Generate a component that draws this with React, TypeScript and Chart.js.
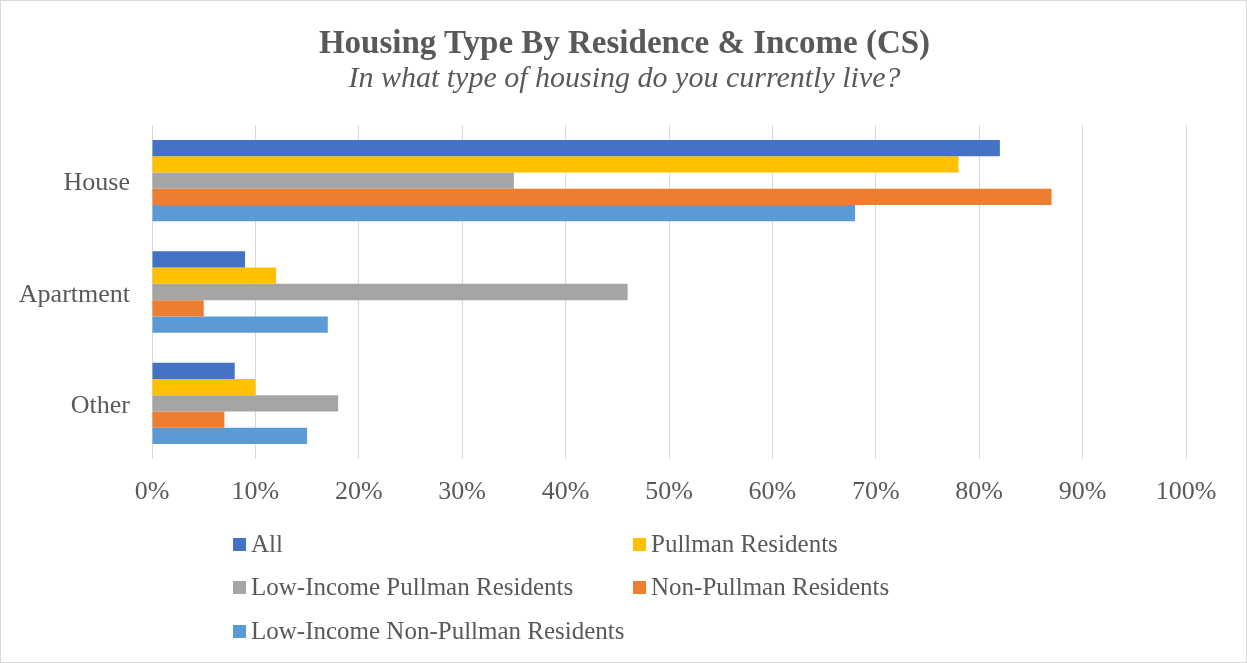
import React, { useEffect, useRef } from "react";
import { Chart, registerables } from "chart.js";

Chart.register(...registerables);

const categories = ["House", "Apartment", "Other"];
const seriesNames = [
  "All",
  "Pullman Residents",
  "Low-Income Pullman Residents",
  "Non-Pullman Residents",
  "Low-Income Non-Pullman Residents",
];
const allValues = [82, 9, 8];
const pullmanValues = [78, 12, 10];
const lowIncomePullmanValues = [35, 46, 18];
const nonPullmanValues = [87, 5, 7];
const lowIncomeNonPullmanValues = [68, 17, 15];
const seriesColors = ["#4472C4", "#FFC000", "#A5A5A5", "#ED7D31", "#5B9BD5"];
const xTicks = [0, 10, 20, 30, 40, 50, 60, 70, 80, 90, 100];

const FONT = "'Liberation Serif', serif";
const TEXT = "#595959";

export default function App() {
  const ref = useRef<HTMLCanvasElement>(null);
  useEffect(() => {
    document.body.style.margin = "0";
    const values = [allValues, pullmanValues, lowIncomePullmanValues, nonPullmanValues, lowIncomeNonPullmanValues];
    const chart = new Chart(ref.current!, {
      type: "bar",
      data: {
        labels: categories,
        datasets: seriesNames.map((n, i) => ({
          label: n,
          data: values[i],
          backgroundColor: seriesColors[i],
          borderWidth: 0,
          barPercentage: 1,
          categoryPercentage: 0.73,
        })),
      },
      options: {
        indexAxis: "y",
        animation: false,
        responsive: false,
        maintainAspectRatio: false,
        layout: { padding: { left: 10, right: 60, top: 124, bottom: 153 } },
        plugins: { legend: { display: false }, title: { display: false }, tooltip: { enabled: false } },
        scales: {
          x: {
            min: 0,
            max: 100,
            afterBuildTicks: (s: any) => {
              s.ticks = xTicks.map((v) => ({ value: v }));
            },
            afterFit: (s: any) => {
              s.height = 50;
            },
            grid: { color: "#D9D9D9", lineWidth: 1, drawTicks: false },
            border: { display: false },
            ticks: {
              color: TEXT,
              font: { family: FONT, size: 26 },
              padding: 18,
              callback: (v: any) => v + "%",
            },
          },
          y: {
            afterFit: (s: any) => {
              s.width = 141;
            },
            grid: { display: false, drawTicks: false },
            border: { display: false },
            ticks: { color: TEXT, font: { family: FONT, size: 26 }, padding: 22, labelOffset: 3 },
          },
        },
      },
    });
    return () => chart.destroy();
  }, []);

  const legendPos = [
    [232, 543],
    [632, 543],
    [232, 586],
    [632, 586],
    [232, 630],
  ];

  return (
    <div
      style={{
        position: "relative",
        width: 1247,
        height: 663,
        boxSizing: "border-box",
        border: "1px solid #D9D9D9",
        background: "#fff",
        overflow: "hidden",
      }}
    >
      <canvas ref={ref} width={1245} height={661} style={{ position: "absolute", left: 0, top: 0 }} />
      <div
        style={{
          position: "absolute",
          left: 0,
          width: 1247,
          top: 22,
          textAlign: "center",
          fontFamily: FONT,
          fontWeight: "bold",
          fontSize: 33,
          color: TEXT,
          lineHeight: "38px",
        }}
      >
        Housing Type By Residence &amp; Income (CS)
      </div>
      <div
        style={{
          position: "absolute",
          left: 0,
          width: 1247,
          top: 59,
          textAlign: "center",
          fontFamily: FONT,
          fontStyle: "italic",
          fontSize: 30,
          color: TEXT,
          lineHeight: "34px",
        }}
      >
        In what type of housing do you currently live?
      </div>
      {seriesNames.map((n, i) => (
        <div
          key={n}
          style={{
            position: "absolute",
            left: legendPos[i][0],
            top: legendPos[i][1] - 14,
            height: 28,
            display: "flex",
            alignItems: "center",
            fontFamily: FONT,
            fontSize: 25,
            color: TEXT,
            whiteSpace: "nowrap",
          }}
        >
          <span style={{ display: "inline-block", width: 13, height: 13, background: seriesColors[i], marginRight: 5 }} />
          {n}
        </div>
      ))}
    </div>
  );
}
